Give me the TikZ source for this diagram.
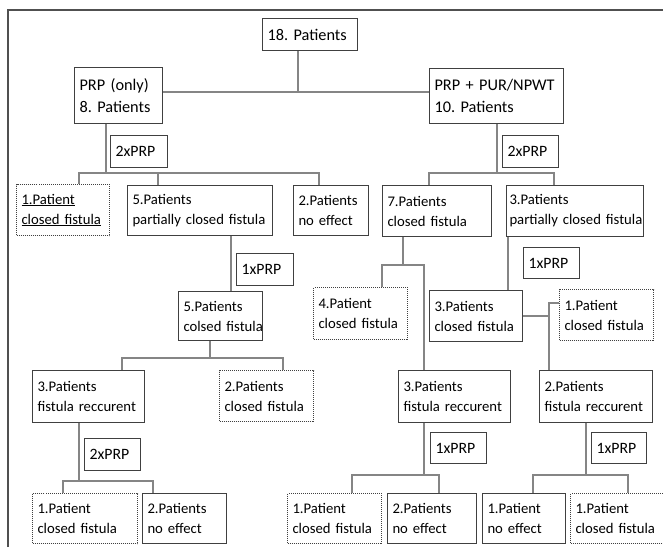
\documentclass[tikz,border=0pt]{standalone}
\usepackage{fontspec}
\setmainfont{Carlito}
\frenchspacing
\hyphenpenalty=10000
\exhyphenpenalty=10000
\definecolor{boxline}{HTML}{404040}
\definecolor{linkline}{HTML}{858585}
\definecolor{frameline}{HTML}{505050}
\tikzset{
  stepbox/.style={draw=boxline, line width=1pt, anchor=north west, align=left,
    inner xsep=5pt, inner ysep=0pt, text=black, font=\fontsize{14.7}{20}\selectfont,
    execute at begin node={\rightskip=0pt plus 1fil minus 30pt}},
  topbox/.style={stepbox, font=\fontsize{16.3}{22}\selectfont},
  dosebox/.style={stepbox, font=\fontsize{15.8}{20}\selectfont},
  endbox/.style={stepbox, dash pattern=on 1pt off 1pt},
  sz/.style 2 args={text width=#1pt-10pt, minimum height=#2pt},
  link/.style={draw=linkline, line width=1.2pt},
}

\begin{document}
\begin{tikzpicture}[x=1pt, y=-1pt]
\useasboundingbox (0,0) rectangle (663,547);
\draw[frameline, line width=2pt] (8,547) -- (8,10) -- (663,10);

\node[topbox, sz={95}{32}] (n18) at (262,18) {18. Patients};
\node[topbox, sz={88}{56}] (prp) at (74,67) {PRP (only)\\8. Patients};
\node[topbox, sz={134}{55}] (pur) at (429,68) {PRP + PUR/NPWT\\10. Patients};

\node[dosebox, sz={57}{32}] (xa) at (110,135) {2xPRP};
\node[dosebox, sz={56}{32}] (xb) at (502,135) {2xPRP};
\node[endbox, sz={93}{51}] (a1) at (16,184) {\underline{1.Patient}\\\underline{closed fistula}};
\node[stepbox, sz={145}{50}] (a2) at (127,185) {5.Patients\\partially closed fistula};
\node[stepbox, sz={75}{50}] (a3) at (293,185) {2.Patients\\no effect};
\node[stepbox, sz={109}{51}] (b1) at (382,185) {7.Patients\\closed fistula};
\node[stepbox, inner xsep=3pt, text width=131pt, minimum height=51pt] (b2) at (506,185) {3.Patients\\partially closed fistula};

\node[dosebox, sz={57}{32}] (xc) at (236,253) {1xPRP};
\node[dosebox, sz={56}{31}] (xd) at (523,247) {1xPRP};
\node[stepbox, sz={84}{49}] (c1) at (178,291) {5.Patients\\colsed fistula};
\node[endbox, sz={94}{52}] (b1a) at (313,287) {4.Patient\\closed fistula};
\node[stepbox, sz={93}{51}] (b2a) at (429,290) {3.Patients\\closed fistula};
\node[endbox, sz={94}{51}] (b2b) at (559,289) {1.Patient\\closed fistula};

\node[stepbox, sz={112}{52}] (d1) at (32,370) {3.Patients\\fistula reccurent};
\node[endbox, sz={94}{51}] (d2) at (219,370) {2.Patients\\closed fistula};
\node[stepbox, sz={112}{52}] (e1) at (398,370) {3.Patients\\fistula reccurent};
\node[stepbox, sz={113}{52}] (f1) at (539,370) {2.Patients\\fistula reccurent};

\node[dosebox, sz={56}{32}] (xe) at (84,438) {2xPRP};
\node[dosebox, sz={56}{31}] (xf) at (430,432) {1xPRP};
\node[dosebox, sz={55}{31}] (xg) at (591,432) {1xPRP};
\node[endbox, sz={105}{50}] (g1) at (32,493) {1.Patient\\closed fistula};
\node[stepbox, sz={84}{50}] (g2) at (142,493) {2.Patients\\no effect};
\node[endbox, sz={94}{50}] (h1) at (287,493) {1.Patient\\closed fistula};
\node[stepbox, sz={89}{50}] (h2) at (387,493) {2.Patients\\no effect};
\node[stepbox, sz={83}{50}] (i1) at (482,493) {1.Patient\\no effect};
\node[endbox, sz={93}{50}] (i2) at (570,493) {1.Patient\\closed fistula};

\coordinate (j18) at (298,92);
\draw[link] (n18.south -| j18) -- (j18);
\draw[link] (prp.east |- j18) -- (pur.west |- j18);

\coordinate (jp) at (106,173);
\coordinate (pa) at (79,173);
\coordinate (pb) at (158,173);
\coordinate (pc) at (319,173);
\draw[link] (prp.south -| jp) -- (jp);
\draw[link] (a1.north -| pa) -- (pa) -- (pc) -- (a3.north -| pc);
\draw[link] (pb) -- (a2.north -| pb);

\coordinate (jq) at (497,173);
\coordinate (qa) at (429,173);
\coordinate (qb) at (554,173);
\draw[link] (pur.south -| jq) -- (jq);
\draw[link] (b1.north -| qa) -- (qa) -- (qb) -- (b2.north -| qb);

\coordinate (ka) at (231,260);
\draw[link] (a2.south -| ka) -- (c1.north -| ka);

\coordinate (jc) at (210,358);
\coordinate (ca) at (122,358);
\coordinate (cb) at (283,358);
\draw[link] (c1.south -| jc) -- (jc);
\draw[link] (d1.north -| ca) -- (ca) -- (cb) -- (d2.north -| cb);

\coordinate (jb) at (403,265);
\coordinate (ba) at (382,265);
\coordinate (bb) at (424,265);
\draw[link] (b1.south -| jb) -- (jb);
\draw[link] (b1a.north -| ba) -- (ba) -- (bb) -- (e1.north -| bb);

\coordinate (kb) at (508,260);
\draw[link] (b2.south -| kb) -- (b2a.north -| kb);

\coordinate (jf) at (549,303);
\draw[link] (b2a.east) -- (b2a.east -| jf);
\draw[link] (b2b.west |- jf) -- (jf) -- (f1.north -| jf);

\coordinate (jd) at (79,481);
\coordinate (da) at (63,481);
\coordinate (db) at (153,481);
\draw[link] (d1.south -| jd) -- (jd);
\draw[link] (g1.north -| da) -- (da) -- (db) -- (g2.north -| db);

\coordinate (je) at (424,475);
\coordinate (ea) at (352,475);
\coordinate (eb) at (439,475);
\draw[link] (e1.south -| je) -- (je);
\draw[link] (h1.north -| ea) -- (ea) -- (eb) -- (h2.north -| eb);

\coordinate (jg) at (586,475);
\coordinate (ga) at (533,475);
\coordinate (gb) at (628,475);
\draw[link] (f1.south -| jg) -- (jg);
\draw[link] (i1.north -| ga) -- (ga) -- (gb) -- (i2.north -| gb);
\end{tikzpicture}
\end{document}
